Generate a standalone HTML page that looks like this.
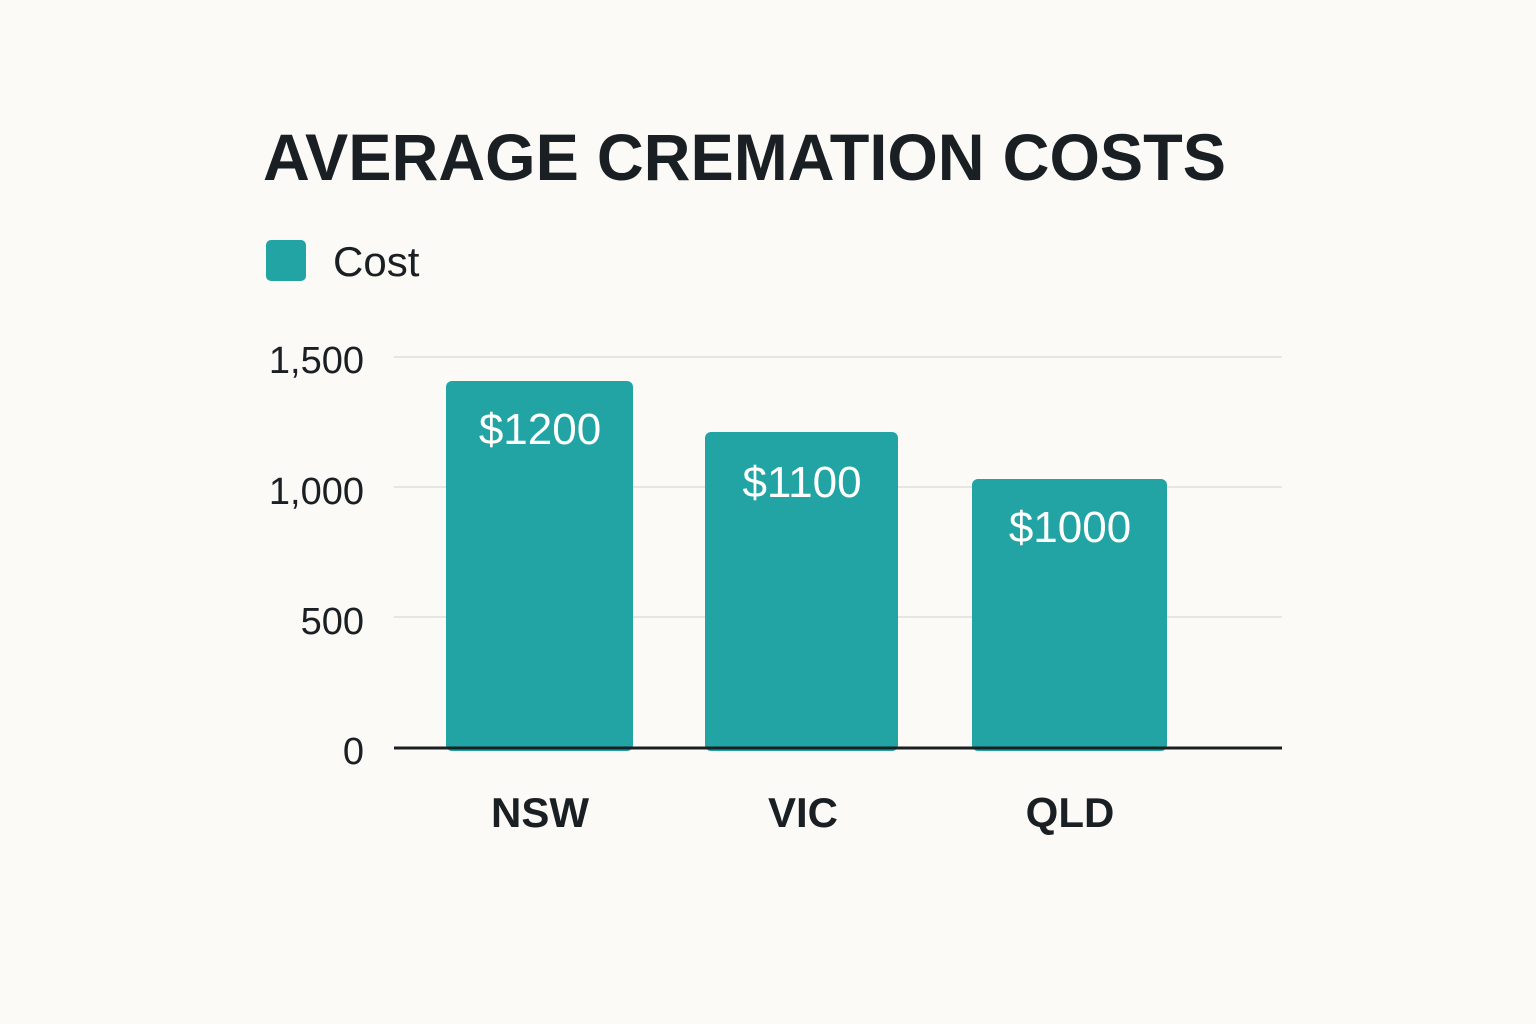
<!DOCTYPE html>
<html><head><meta charset="utf-8"><style>
html,body{margin:0;padding:0;background:#fbfaf6;}
body{width:1536px;height:1024px;position:relative;overflow:hidden;font-family:"Liberation Sans",sans-serif;color:#1a1f24;}
.a{position:absolute;}
</style></head><body>
<svg class="a" style="left:0;top:0" width="1536" height="1024" viewBox="0 0 1536 1024">
<text x="263" y="180" font-family="Liberation Sans, sans-serif" font-weight="bold" font-size="66" fill="#1a1f24" textLength="963" lengthAdjust="spacingAndGlyphs">AVERAGE CREMATION COSTS</text>
<rect x="266" y="240" width="40" height="41" rx="5" fill="#22a4a4"/>
<text x="333" y="276" font-family="Liberation Sans, sans-serif" font-size="42" fill="#1a1f24">Cost</text>
<g stroke="#e6e5e0" stroke-width="2">
<line x1="394" y1="357" x2="1282" y2="357"/>
<line x1="394" y1="487" x2="1282" y2="487"/>
<line x1="394" y1="617" x2="1282" y2="617"/>
</g>
<g font-family="Liberation Sans, sans-serif" font-size="38" fill="#1a1f24" text-anchor="end">
<text x="364" y="373">1,500</text>
<text x="364" y="504">1,000</text>
<text x="364" y="634">500</text>
<text x="364" y="764">0</text>
</g>
<g fill="#22a4a4">
<rect x="446" y="381" width="187" height="370" rx="6"/>
<rect x="705" y="432" width="193" height="319" rx="6"/>
<rect x="972" y="479" width="195" height="272" rx="6"/>
</g>
<line x1="394" y1="748" x2="1282" y2="748" stroke="#1a1f24" stroke-width="3"/>
<g font-family="Liberation Sans, sans-serif" font-size="44" fill="#ffffff" text-anchor="middle">
<text x="540" y="444">$1200</text>
<text x="802" y="497">$1100</text>
<text x="1070" y="542">$1000</text>
</g>
<g font-family="Liberation Sans, sans-serif" font-size="42" font-weight="bold" fill="#1a1f24" text-anchor="middle">
<text x="540" y="827">NSW</text>
<text x="803" y="827">VIC</text>
<text x="1070" y="827">QLD</text>
</g>
</svg>
</body></html>
